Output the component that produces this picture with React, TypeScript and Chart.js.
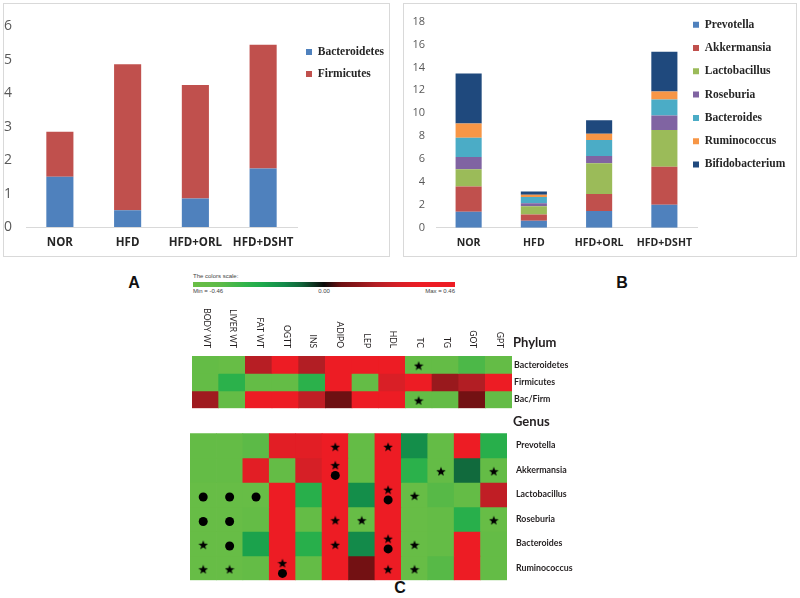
import React, { useEffect, useRef } from 'react';
import { Chart, registerables } from 'chart.js';

Chart.register(...registerables);

// ---------- Panel A (phylum) ----------
const groups = ['NOR', 'HFD', 'HFD+ORL', 'HFD+DSHT'];
const bacteroidetes = [1.5, 0.5, 0.85, 1.75];
const firmicutes = [1.35, 4.37, 3.4, 3.7];

// ---------- Panel B (genus) ----------
const prevotella = [1.4, 0.6, 1.46, 2.0];
const akkermansia = [2.2, 0.55, 1.48, 3.33];
const lactobacillus = [1.5, 0.72, 2.69, 3.21];
const roseburia = [1.07, 0.27, 0.63, 1.26];
const bacteroides = [1.68, 0.55, 1.39, 1.4];
const ruminococcus = [1.24, 0.19, 0.55, 0.7];
const bifidobacterium = [4.38, 0.28, 1.18, 3.47];

// ---------- Panel C (correlation heatmap) ----------
const params = ['BODY WT', 'LIVER WT', 'FAT WT', 'OGTT', 'INS', 'ADIPO', 'LEP', 'HDL', 'TC', 'TG', 'GOT', 'GPT'];
const phylumRows = ['Bacteroidetes', 'Firmicutes', 'Bac/Firm'];
const bacteroidetesCorr = [-0.42, -0.44, 0.19, 0.4, 0.18, 0.42, 0.42, 0.42, -0.42, -0.42, -0.33, -0.42];
const firmicutesCorr = [-0.42, -0.26, -0.42, -0.42, -0.26, 0.42, -0.42, 0.27, 0.42, 0.14, 0.18, 0.42];
const bacFirmCorr = [0.15, -0.42, 0.42, 0.42, 0.21, 0.06, 0.42, 0.42, -0.42, -0.42, 0.07, -0.42];

const genusRows = ['Prevotella', 'Akkermansia', 'Lactobacillus', 'Roseburia', 'Bacteroides', 'Ruminococcus'];
const prevotellaCorr = [-0.42, -0.42, -0.36, 0.3, 0.3, 0.42, -0.42, 0.42, -0.15, -0.42, 0.42, -0.25];
const akkermansiaCorr = [-0.42, -0.42, 0.3, -0.42, 0.26, 0.42, -0.42, 0.42, -0.26, -0.42, -0.09, -0.42];
const lactobacillusCorr = [-0.44, -0.44, -0.44, 0.42, -0.25, 0.42, -0.15, 0.42, -0.44, -0.35, -0.42, 0.21];
const roseburiaCorr = [-0.44, -0.44, -0.42, 0.42, -0.42, 0.42, -0.44, 0.42, -0.44, -0.42, -0.25, -0.44];
const bacteroidesCorr = [-0.44, -0.44, -0.2, 0.42, -0.25, 0.42, -0.14, 0.42, -0.44, -0.42, 0.42, -0.42];
const ruminococcusCorr = [-0.44, -0.44, -0.42, 0.42, -0.42, 0.42, 0.07, 0.42, -0.44, -0.35, 0.42, -0.42];

const phylumStars = [['Bacteroidetes', 'TC'], ['Bac/Firm', 'TC']];
const phylumCircles: string[][] = [];
const genusStars = [
  ['Prevotella', 'ADIPO'], ['Prevotella', 'HDL'],
  ['Akkermansia', 'ADIPO'], ['Akkermansia', 'TG'], ['Akkermansia', 'GPT'],
  ['Lactobacillus', 'HDL'], ['Lactobacillus', 'TC'],
  ['Roseburia', 'ADIPO'], ['Roseburia', 'LEP'], ['Roseburia', 'GPT'],
  ['Bacteroides', 'BODY WT'], ['Bacteroides', 'ADIPO'], ['Bacteroides', 'HDL'], ['Bacteroides', 'TC'],
  ['Ruminococcus', 'BODY WT'], ['Ruminococcus', 'LIVER WT'], ['Ruminococcus', 'OGTT'], ['Ruminococcus', 'HDL'], ['Ruminococcus', 'TC'],
];
const genusCircles = [
  ['Akkermansia', 'ADIPO'],
  ['Lactobacillus', 'BODY WT'], ['Lactobacillus', 'LIVER WT'], ['Lactobacillus', 'FAT WT'], ['Lactobacillus', 'HDL'],
  ['Roseburia', 'BODY WT'], ['Roseburia', 'LIVER WT'],
  ['Bacteroides', 'LIVER WT'], ['Bacteroides', 'HDL'],
  ['Ruminococcus', 'OGTT'],
];

const scaleMin = -0.46;
const scaleMax = 0.46;

const colorStops: [number, number[]][] = [
  [-0.46, [106, 190, 70]],
  [-0.36, [92, 186, 71]],
  [-0.28, [50, 180, 74]],
  [-0.22, [30, 170, 76]],
  [-0.14, [19, 138, 74]],
  [-0.08, [17, 100, 58]],
  [0, [10, 10, 10]],
  [0.06, [110, 16, 18]],
  [0.12, [140, 22, 26]],
  [0.18, [178, 30, 36]],
  [0.26, [214, 31, 38]],
  [0.34, [237, 28, 36]],
  [0.46, [237, 28, 36]],
];

function corrColor(v: number): string {
  if (v <= colorStops[0][0]) return `rgb(${colorStops[0][1].join(',')})`;
  for (let i = 1; i < colorStops.length; i++) {
    const [v1, c1] = colorStops[i];
    const [v0, c0] = colorStops[i - 1];
    if (v <= v1) {
      const t = (v - v0) / (v1 - v0);
      const c = c0.map((a, k) => Math.round(a + (c1[k] - a) * t));
      return `rgb(${c.join(',')})`;
    }
  }
  return `rgb(${colorStops[colorStops.length - 1][1].join(',')})`;
}

function makeStar(size: number) {
  const c = document.createElement('canvas');
  c.width = size;
  c.height = size;
  const g = c.getContext('2d')!;
  const cx = size / 2;
  const cy = size / 2 + 0.5;
  const R = size / 2;
  const r = R * 0.42;
  g.beginPath();
  for (let k = 0; k < 10; k++) {
    const rad = k % 2 === 0 ? R : r;
    const a = -Math.PI / 2 + (k * Math.PI) / 5;
    g.lineTo(cx + rad * Math.cos(a), cy + rad * Math.sin(a));
  }
  g.closePath();
  g.fillStyle = '#000';
  g.fill();
  return c;
}

// Places the (right-hand) legend: first swatch's left edge and first row centre.
const legendPlace = (boxLeft: number, firstCenter: number, pad: number, itemH: number) => ({
  id: 'legendPlace',
  afterLayout(chart: any) {
    const lg = chart.legend;
    if (!lg) return;
    const h = lg.height;
    lg.left = boxLeft - pad;
    lg.right = chart.width;
    lg.width = lg.right - lg.left;
    lg.top = firstCenter - pad - itemH / 2;
    lg.bottom = lg.top + h;
  },
});

const colLabelPlugin = {
  id: 'colLabels',
  afterDraw(chart: any) {
    const { ctx, chartArea, scales } = chart;
    ctx.save();
    ctx.font = '8.5px Lato';
    ctx.fillStyle = '#231f20';
    ctx.textAlign = 'right';
    ctx.textBaseline = 'middle';
    params.forEach((p, i) => {
      const x = scales.x.getPixelForValue(i);
      ctx.save();
      ctx.translate(x + 1, chartArea.top - 8);
      ctx.rotate(Math.PI / 2);
      ctx.fillText(p, 0, 0);
      ctx.restore();
    });
    ctx.restore();
  },
};

function heatmapConfig(
  rows: string[],
  corr: number[][],
  stars: string[][],
  circles: string[][],
  starImg: HTMLCanvasElement,
  lay: { left: number; top: number; bottom: number; axisWidth: number; labelPad: number },
  extraPlugins: any[],
) {
  const has = (list: string[][], r: string, c: string) => list.some((s) => s[0] === r && s[1] === c);
  const pair = (r: string, c: string) => has(stars, r, c) && has(circles, r, c);
  const starData = stars.map(([r, c]) => ({ x: c, y: rows.indexOf(r) + (pair(r, c) ? 0.3 : 0.55) }));
  const circleData = circles.map(([r, c]) => ({ x: c, y: rows.indexOf(r) + (pair(r, c) ? 0.72 : 0.6) }));
  const cellSets = rows.map((r, i) => ({
    type: 'bar',
    label: r,
    data: corr[i].map(() => [i, i + 1]),
    backgroundColor: corr[i].map(corrColor),
    borderWidth: 0,
    barPercentage: 1,
    categoryPercentage: 1,
    grouped: false,
    order: 2,
  }));
  return {
    type: 'bar',
    data: {
      labels: params,
      datasets: [
        {
          type: 'scatter',
          label: 'stars',
          data: starData,
          pointStyle: starImg,
          pointRadius: 5,
          order: 0,
        },
        {
          type: 'scatter',
          label: 'circles',
          data: circleData,
          pointStyle: 'circle',
          pointRadius: 4.5,
          backgroundColor: '#000',
          borderWidth: 0,
          order: 1,
        },
        ...cellSets,
      ],
    },
    options: {
      animation: false,
      responsive: false,
      devicePixelRatio: 1,
      events: [],
      layout: { padding: { left: lay.left, top: lay.top, bottom: lay.bottom, right: 0 } },
      scales: {
        x: { type: 'category', display: false, offset: true },
        y: {
          type: 'linear',
          position: 'right',
          min: 0,
          max: rows.length,
          reverse: true,
          afterBuildTicks: (axis: any) => {
            axis.ticks = rows.map((_, i) => ({ value: i + 0.5 }));
          },
          afterFit: (axis: any) => {
            axis.width = lay.axisWidth;
          },
          ticks: {
            autoSkip: false,
            padding: lay.labelPad,
            color: '#231f20',
            font: { family: 'Lato', weight: 'bold', size: 8.8 },
            callback: (v: number) => rows[Math.floor(v)],
          },
          grid: { display: false, drawTicks: false },
          border: { display: false },
        },
      },
      plugins: { legend: { display: false }, tooltip: { enabled: false } },
    },
    plugins: extraPlugins,
  };
}

function scaleGradient() {
  const stops: string[] = [];
  const n = 46;
  for (let i = 0; i <= n; i++) {
    const v = scaleMin + ((scaleMax - scaleMin) * i) / n;
    stops.push(`${corrColor(v)} ${((i / n) * 100).toFixed(2)}%`);
  }
  return `linear-gradient(to right, ${stops.join(', ')})`;
}

export default function App() {
  const refA = useRef<HTMLCanvasElement>(null);
  const refB = useRef<HTMLCanvasElement>(null);
  const refP = useRef<HTMLCanvasElement>(null);
  const refG = useRef<HTMLCanvasElement>(null);

  useEffect(() => {
    const charts: Chart[] = [];
    const legendFont = { family: 'Liberation Serif', weight: 'bold' as const, size: 11.5 };

    charts.push(
      new Chart(refA.current!, {
        type: 'bar',
        data: {
          labels: groups,
          datasets: [
            { label: 'Bacteroidetes', data: bacteroidetes, backgroundColor: '#4F81BD', barPercentage: 0.4, categoryPercentage: 1 },
            { label: 'Firmicutes', data: firmicutes, backgroundColor: '#C0504D', barPercentage: 0.4, categoryPercentage: 1 },
          ],
        },
        options: {
          animation: false,
          responsive: false,
          devicePixelRatio: 1,
          events: [],
          layout: { padding: { top: 19, left: 0, right: 0, bottom: 0 } },
          scales: {
            x: {
              stacked: true,
              grid: { display: false, drawTicks: false },
              border: { display: true, color: '#d9d9d9' },
              ticks: { color: '#262626', font: { family: 'Open Sans', weight: 'bold', size: 11.5 }, padding: 9 },
              afterFit: (a: any) => { a.height = 29; },
            },
            y: {
              stacked: true,
              min: 0,
              max: 6,
              ticks: { stepSize: 1, color: '#595959', font: { family: 'Open Sans', size: 14 }, padding: 14 },
              grid: { display: false, drawTicks: false },
              border: { display: false },
              afterFit: (a: any) => { a.width = 22; },
            },
          },
          plugins: {
            legend: {
              position: 'right',
              align: 'start',
              maxWidth: 92,
              labels: { boxWidth: 6, boxHeight: 6, padding: 10.5, color: '#262626', font: legendFont },
            },
            tooltip: { enabled: false },
          },
        } as any,
        plugins: [legendPlace(302, 48, 10.5, 11.5)],
      }),
    );

    const genusSeries = [
      ['Prevotella', prevotella, '#4F81BD'],
      ['Akkermansia', akkermansia, '#C0504D'],
      ['Lactobacillus', lactobacillus, '#9BBB59'],
      ['Roseburia', roseburia, '#8064A2'],
      ['Bacteroides', bacteroides, '#4BACC6'],
      ['Ruminococcus', ruminococcus, '#F79646'],
      ['Bifidobacterium', bifidobacterium, '#1F497D'],
    ] as [string, number[], string][];

    charts.push(
      new Chart(refB.current!, {
        type: 'bar',
        data: {
          labels: groups,
          datasets: genusSeries.map(([label, data, color]) => ({
            label,
            data,
            backgroundColor: color,
            barPercentage: 0.4,
            categoryPercentage: 1,
          })),
        },
        options: {
          animation: false,
          responsive: false,
          devicePixelRatio: 1,
          events: [],
          layout: { padding: { top: 5, left: 0, right: 0, bottom: 0 } },
          scales: {
            x: {
              stacked: true,
              grid: { display: false, drawTicks: false },
              border: { display: true, color: '#d9d9d9' },
              ticks: { color: '#262626', font: { family: 'Open Sans', weight: 'bold', size: 10.5 }, padding: 9 },
              afterFit: (a: any) => { a.height = 28.3; },
            },
            y: {
              stacked: true,
              min: 0,
              max: 18,
              ticks: { stepSize: 2, color: '#595959', font: { family: 'Open Sans', size: 11 }, padding: 11 },
              grid: { display: false, drawTicks: false },
              border: { display: false },
              afterFit: (a: any) => { a.width = 32; },
            },
          },
          plugins: {
            legend: {
              position: 'right',
              align: 'start',
              maxWidth: 99,
              labels: { boxWidth: 6, boxHeight: 6, padding: 11.8, color: '#262626', font: legendFont },
            },
            tooltip: { enabled: false },
          },
        } as any,
        plugins: [legendPlace(289, 20.7, 11.8, 11.5)],
      }),
    );

    const starImg = makeStar(10);
    charts.push(
      new Chart(
        refP.current!,
        heatmapConfig(
          phylumRows,
          [bacteroidetesCorr, firmicutesCorr, bacFirmCorr],
          phylumStars,
          phylumCircles,
          starImg,
          { left: 32, top: 60, bottom: 9.7, axisWidth: 108, labelPad: 2 },
          [colLabelPlugin],
        ) as any,
      ),
    );
    charts.push(
      new Chart(
        refG.current!,
        heatmapConfig(
          genusRows,
          [prevotellaCorr, akkermansiaCorr, lactobacillusCorr, roseburiaCorr, bacteroidesCorr, ruminococcusCorr],
          genusStars,
          genusCircles,
          starImg,
          { left: 30, top: 15.3, bottom: 15.7, axisWidth: 113, labelPad: 9 },
          [],
        ) as any,
      ),
    );

    return () => charts.forEach((c) => c.destroy());
  }, []);

  const abs = (l: number, t: number, w: number, h: number): React.CSSProperties => ({
    position: 'absolute',
    left: l,
    top: t,
    width: w,
    height: h,
  });
  const tiny: React.CSSProperties = { fontFamily: 'Liberation Sans, Arial, sans-serif', fontSize: 6, color: '#444', lineHeight: '7px', whiteSpace: 'nowrap' };
  const panelLetter: React.CSSProperties = { fontFamily: 'Liberation Sans, Arial, sans-serif', fontWeight: 'bold', fontSize: 16, color: '#111', textAlign: 'center', lineHeight: '18px' };
  const header: React.CSSProperties = { fontFamily: 'Lato, sans-serif', fontWeight: 'bold', fontSize: 13, color: '#231f20', lineHeight: '16px', whiteSpace: 'nowrap' };

  return (
    <div style={{ position: 'absolute', left: 0, top: 0, width: 800, height: 598, background: '#fff', overflow: 'hidden' }}>
      <div style={{ ...abs(3, 3, 387, 254), border: '1px solid #d9d9d9', boxSizing: 'border-box' }} />
      <div style={{ ...abs(403, 3, 394, 254), border: '1px solid #d9d9d9', boxSizing: 'border-box' }} />
      <canvas ref={refA} width={385} height={252} style={abs(4, 4, 385, 252)} />
      <canvas ref={refB} width={392} height={252} style={abs(404, 4, 392, 252)} />

      <div style={{ ...abs(124, 274, 20, 18), ...panelLetter }}>A</div>
      <div style={{ ...abs(612, 274, 20, 18), ...panelLetter }}>B</div>
      <div style={{ ...abs(390, 579, 20, 18), ...panelLetter }}>C</div>

      <div style={{ ...abs(193, 273, 80, 7), ...tiny }}>The colors scale:</div>
      <div style={{ ...abs(193, 282, 262, 5), background: scaleGradient() }} />
      <div style={{ ...abs(193, 288, 60, 7), ...tiny }}>Min = -0.46</div>
      <div style={{ ...abs(304, 288, 40, 7), ...tiny, textAlign: 'center' }}>0.00</div>
      <div style={{ ...abs(395, 288, 60, 7), ...tiny, textAlign: 'right' }}>Max = 0.46</div>

      <canvas ref={refP} width={460} height={122} style={abs(160, 296, 460, 122)} />
      <canvas ref={refG} width={460} height={178} style={abs(160, 418, 460, 178)} />

      <div style={{ ...abs(513, 334, 80, 16), ...header }}>Phylum</div>
      <div style={{ ...abs(513, 413, 80, 16), ...header }}>Genus</div>
    </div>
  );
}
